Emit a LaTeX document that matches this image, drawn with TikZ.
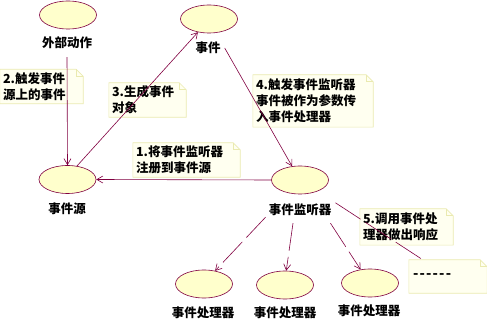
\documentclass[tikz,border=0pt]{standalone}
\usepackage{fontspec}
\setmainfont{Noto Sans CJK SC}
\usetikzlibrary{arrows.meta,calc,shapes.geometric,backgrounds}
\definecolor{ln}{RGB}{128,0,64}
\definecolor{elfill}{RGB}{255,255,204}
\definecolor{notefill}{RGB}{255,255,240}
\definecolor{noteedge}{RGB}{234,234,176}
\begin{document}
\begin{tikzpicture}[x=1pt,y=-1pt,
  uc/.style={ellipse,draw=ln,fill=elfill,minimum width=57pt,minimum height=28pt,inner sep=0pt,line width=0.6pt},
  lbl/.style={font=\fontsize{12.5}{15}\selectfont\bfseries,inner sep=1pt},
  note/.style 2 args={text width=#1,minimum height=#2,inner sep=3pt,align=left,
    font=\fontsize{12.5}{16}\selectfont\bfseries},
  conn/.style={draw=ln,line width=0.6pt},
  arr/.style={conn,-{Straight Barb[length=6pt,width=7pt]}},
  dep/.style={arr,dash pattern=on 28pt off 6pt}]
\useasboundingbox (0,0) rectangle (487,320);
% use cases
\node[uc] (act) at (68,15) {};
\node[lbl] (actlbl) at (67,43) {外部动作};
\node[uc] (evt) at (209,19) {};
\node[lbl] (evtlbl) at (208,48) {事件};
\node[uc] (src) at (67.5,179.5) {};
\node[lbl] (srclbl) at (67,209) {事件源};
\node[uc] (lsn) at (300,180) {};
\node[lbl] (lsnlbl) at (300,210) {事件监听器};
\node[uc] (h1) at (204,284) {};
\node[lbl] (h1lbl) at (203,313) {事件处理器};
\node[uc] (h2) at (285,285) {};
\node[lbl] (h2lbl) at (285,313) {事件处理器};
\node[uc] (h3) at (370,283) {};
\node[lbl] (h3lbl) at (369,311) {事件处理器};
% notes
\node[note={77pt}{33pt}] (n2) at (41.5,86.5) {2.触发事件\\源上的事件};
\node[note={71pt}{30pt}] (n3) at (147.5,100) {3.生成事件\\对象};
\node[note={114pt}{52pt}] (n4) at (313,101) {4.触发事件监听器\\事件被作为参数传\\入事件处理器};
\node[note={101pt}{34pt}] (n1) at (186.5,160) {1.将事件监听器\\注册到事件源};
\node[note={87pt}{36pt}] (n5) at (406.5,227) {5.调用事件处\\理器做出响应};
\node[note={72pt}{33pt},font=\fontsize{14}{16}\selectfont\bfseries] (n6) at (448,276.5)
  {\raisebox{-2pt}{\kern1pt-\kern1.2pt-\kern1.2pt-\kern1.2pt-\kern1.2pt-\kern1.2pt-}};
\begin{scope}[on background layer]
\foreach \n in {n1,n2,n3,n4,n5,n6}{
  \filldraw[fill=notefill,draw=noteedge,line width=0.6pt]
    (\n.north west) -- ([xshift=-7pt]\n.north east) -- ([yshift=-7pt]\n.north east)
    -- (\n.south east) -- (\n.south west) -- cycle;
  \draw[noteedge,line width=0.6pt] ([xshift=-7pt]\n.north east) -- ([xshift=-7pt,yshift=-7pt]\n.north east)
    -- ([yshift=-7pt]\n.north east);
}
\end{scope}
% connectors
\draw[arr] ([yshift=-7pt]actlbl.south) -- (src.north);
\draw[arr] (src.55) -- (evt.230);
\draw[arr] ([xshift=3pt]evtlbl.east) -- (lsn.120);
\draw[arr] (lsn.west) -- (src.east);
\draw[dep] ([xshift=-2pt]lsnlbl.south west) -- (h1.50);
\draw[dep] ([xshift=-7pt,yshift=-6pt]lsnlbl.south) -- (h2.85);
\draw[dep] ([xshift=-2pt,yshift=-6pt]lsnlbl.south east) -- (h3.125);
\draw[conn,dash pattern=on 30pt off 6pt] ([xshift=3pt]lsnlbl.north east) -- ([xshift=14pt]n6.north west);
\end{tikzpicture}
\end{document}
